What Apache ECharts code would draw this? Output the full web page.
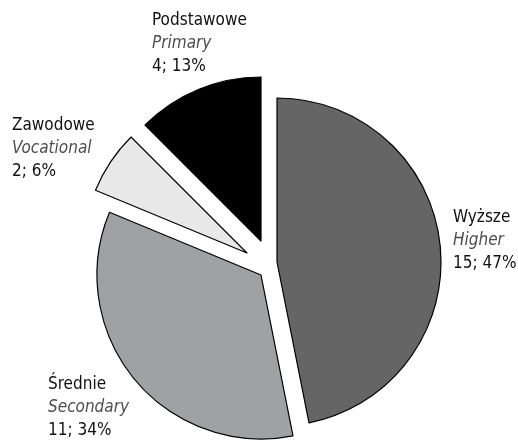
<!DOCTYPE html>
<html>
<head>
<meta charset="utf-8">
<script src="https://cdn.jsdelivr.net/npm/echarts@6/dist/echarts.min.js"></script>
<style>
  html, body { margin: 0; padding: 0; background: #fff; }
  #chart { width: 518px; height: 443px; }
</style>
</head>
<body>
<div id="chart"></div>
<script>
// dane
const namesPl = ['Wyższe', 'Średnie', 'Zawodowe', 'Podstawowe']
const namesEn = ['Higher', 'Secondary', 'Vocational', 'Primary']
const counts = [15, 11, 2, 4]

const colors = ['#656565', '#a0a1a3', '#e8e8e8', '#000000']
// przesuniecie kazdego wycinka od srodka [dx, dy]
const explode = [[15, 4], [-1, 17], [-15, -5], [-1, -17]]
// lewy gorny rog etykiet
const labelPos = [[453, 206], [48, 373], [12, 114], [152, 9]]

const baseCenter = [262, 258]
const radius = 164
const font = "'DejaVu Sans Condensed', 'Liberation Sans Narrow', sans-serif"

const total = counts.reduce((a, b) => a + b, 0)

const makeSeries = (k) => {
  return {
    type: 'pie',
    center: [baseCenter[0] + explode[k][0], baseCenter[1] + explode[k][1]],
    radius: radius,
    startAngle: 90,
    clockwise: true,
    avoidLabelOverlap: false,
    silent: true,
    emphasis: { disabled: true },
    labelLine: { show: false },
    data: counts.map((v, i) => {
      const own = i === k
      return {
        name: namesPl[i],
        value: v,
        itemStyle: own
          ? { color: colors[i], borderColor: '#000', borderWidth: 1.2 }
          : { color: 'rgba(0,0,0,0)', borderWidth: 0 },
        label: { show: own }
      }
    }),
    label: {
      position: 'outside',
      fontFamily: font,
      formatter: (p) => {
        const i = p.dataIndex
        const pct = Math.round(counts[i] / total * 100)
        return '{n|' + namesPl[i] + '}\n{e|' + namesEn[i] + '}\n{v|' + counts[i] + '; ' + pct + '%}'
      },
      rich: {
        n: { fontFamily: font, fontSize: 17, lineHeight: 23, color: '#111' },
        e: { fontFamily: font, fontSize: 17, lineHeight: 23, color: '#4d4d4d', fontStyle: 'italic' },
        v: { fontFamily: font, fontSize: 17, lineHeight: 23, color: '#111' }
      }
    },
    labelLayout: () => ({
      x: labelPos[k][0],
      y: labelPos[k][1],
      align: 'left',
      verticalAlign: 'top',
      hideOverlap: false
    })
  }
}

const chart = echarts.init(document.getElementById('chart'))
chart.setOption({
  animation: false,
  backgroundColor: '#fff',
  series: counts.map((v, k) => makeSeries(k))
})
</script>
</body>
</html>
